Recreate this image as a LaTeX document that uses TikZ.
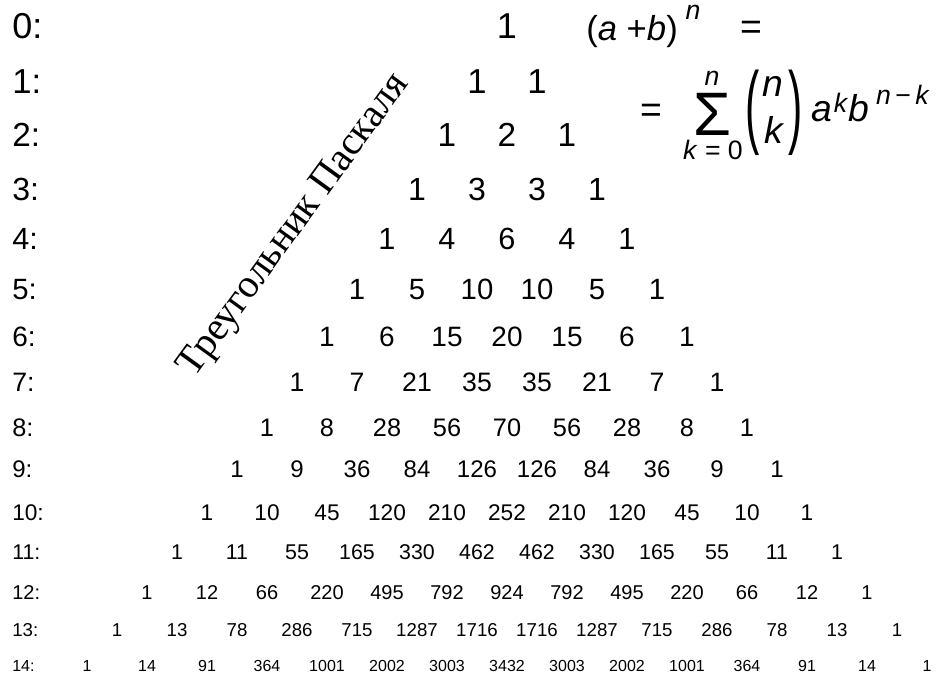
\documentclass[tikz,border=0pt]{standalone}
\usepackage{fontspec}
\setmainfont{Liberation Sans}
\newfontfamily\titlefont{Liberation Serif}
\begin{document}
\begin{tikzpicture}[x=0.75pt, y=-0.75pt,
  num/.style={inner sep=0pt, anchor=base},
  rowlabel/.style={inner sep=0pt, anchor=base west},
  fml/.style={inner sep=0pt, font=\fontsize{28}{28}\selectfont},
  small/.style={inner sep=0pt, font=\fontsize{20}{20}\selectfont},
  paren/.style={inner sep=0pt, yscale=2.15, font=\fontsize{32}{32}\selectfont}]
  \useasboundingbox (0,0) rectangle (937,677);
  % rows of the triangle
  \foreach \n/\y/\vals in {0/26/{1}, 1/81/{1,1}, 2/135/{1,2,1}, 3/189/{1,3,3,1},
      4/239/{1,4,6,4,1}, 5/289/{1,5,10,10,5,1}, 6/336/{1,6,15,20,15,6,1},
      7/382/{1,7,21,35,35,21,7,1}, 8/427/{1,8,28,56,70,56,28,8,1},
      9/469/{1,9,36,84,126,126,84,36,9,1},
      10/512/{1,10,45,120,210,252,210,120,45,10,1},
      11/552/{1,11,55,165,330,462,462,330,165,55,11,1},
      12/592/{1,12,66,220,495,792,924,792,495,220,66,12,1},
      13/630/{1,13,78,286,715,1287,1716,1716,1287,715,286,78,13,1},
      14/666/{1,14,91,364,1001,2002,3003,3432,3003,2002,1001,364,91,14,1}} {
    \pgfmathtruncatemacro\fs{27-\n-(\n>13)}
    \pgfmathsetmacro\yb{\y+0.477*\fs}
    \node[rowlabel, font=\fontsize{\fs}{\fs}\selectfont] (lab\n) at (12,\yb) {\n:};
    \foreach \v [count=\k from 0] in \vals {
      \node[num, font=\fontsize{\fs}{\fs}\selectfont] (c\n-\k) at ({507+30*(2*\k-\n)},\yb) {\v};
    }
  }
  % title
  \node[inner sep=0pt, anchor=base, rotate=54,
    font=\titlefont\fontsize{30}{30}\selectfont] (title) at (302,231) {Треугольник Паскаля};
  % binomial formula
  \node[inner sep=0pt, anchor=base west, font=\fontsize{26}{26}\selectfont] (lhs) at (586,41) {(\textit{a} +\textit{b})};
  \node[small] (lhsexp) at (693,12) {\textit{n}};
  \node[fml] (eqa) at (751,30) {=};
  \node[fml] (eqb) at (651,113) {=};
  \node[inner sep=0pt, font=\fontsize{46}{46}\selectfont] (sum) at (712,114) {Σ};
  \node[small] (sumtop) at (712,78) {\textit{n}};
  \node[small] (sumbot) at (713,150) {\textit{k} = 0};
  \node[paren] (bl) at (753,113) {(};
  \node[paren] (br) at (796,113) {)};
  \node[fml] (bn) at (773,86) {\textit{n}};
  \node[fml] (bk) at (775,130) {\textit{k}};
  \node[fml, anchor=base] (ta) at (822,122) {\textit{a}};
  \node[small] (tak) at (841,103) {\textit{k}};
  \node[fml, anchor=base] (tb) at (859,122) {\textit{b}};
  \node[small] (tbexp) at (903,95) {\textit{n}\,−\,\textit{k}};
\end{tikzpicture}
\end{document}
